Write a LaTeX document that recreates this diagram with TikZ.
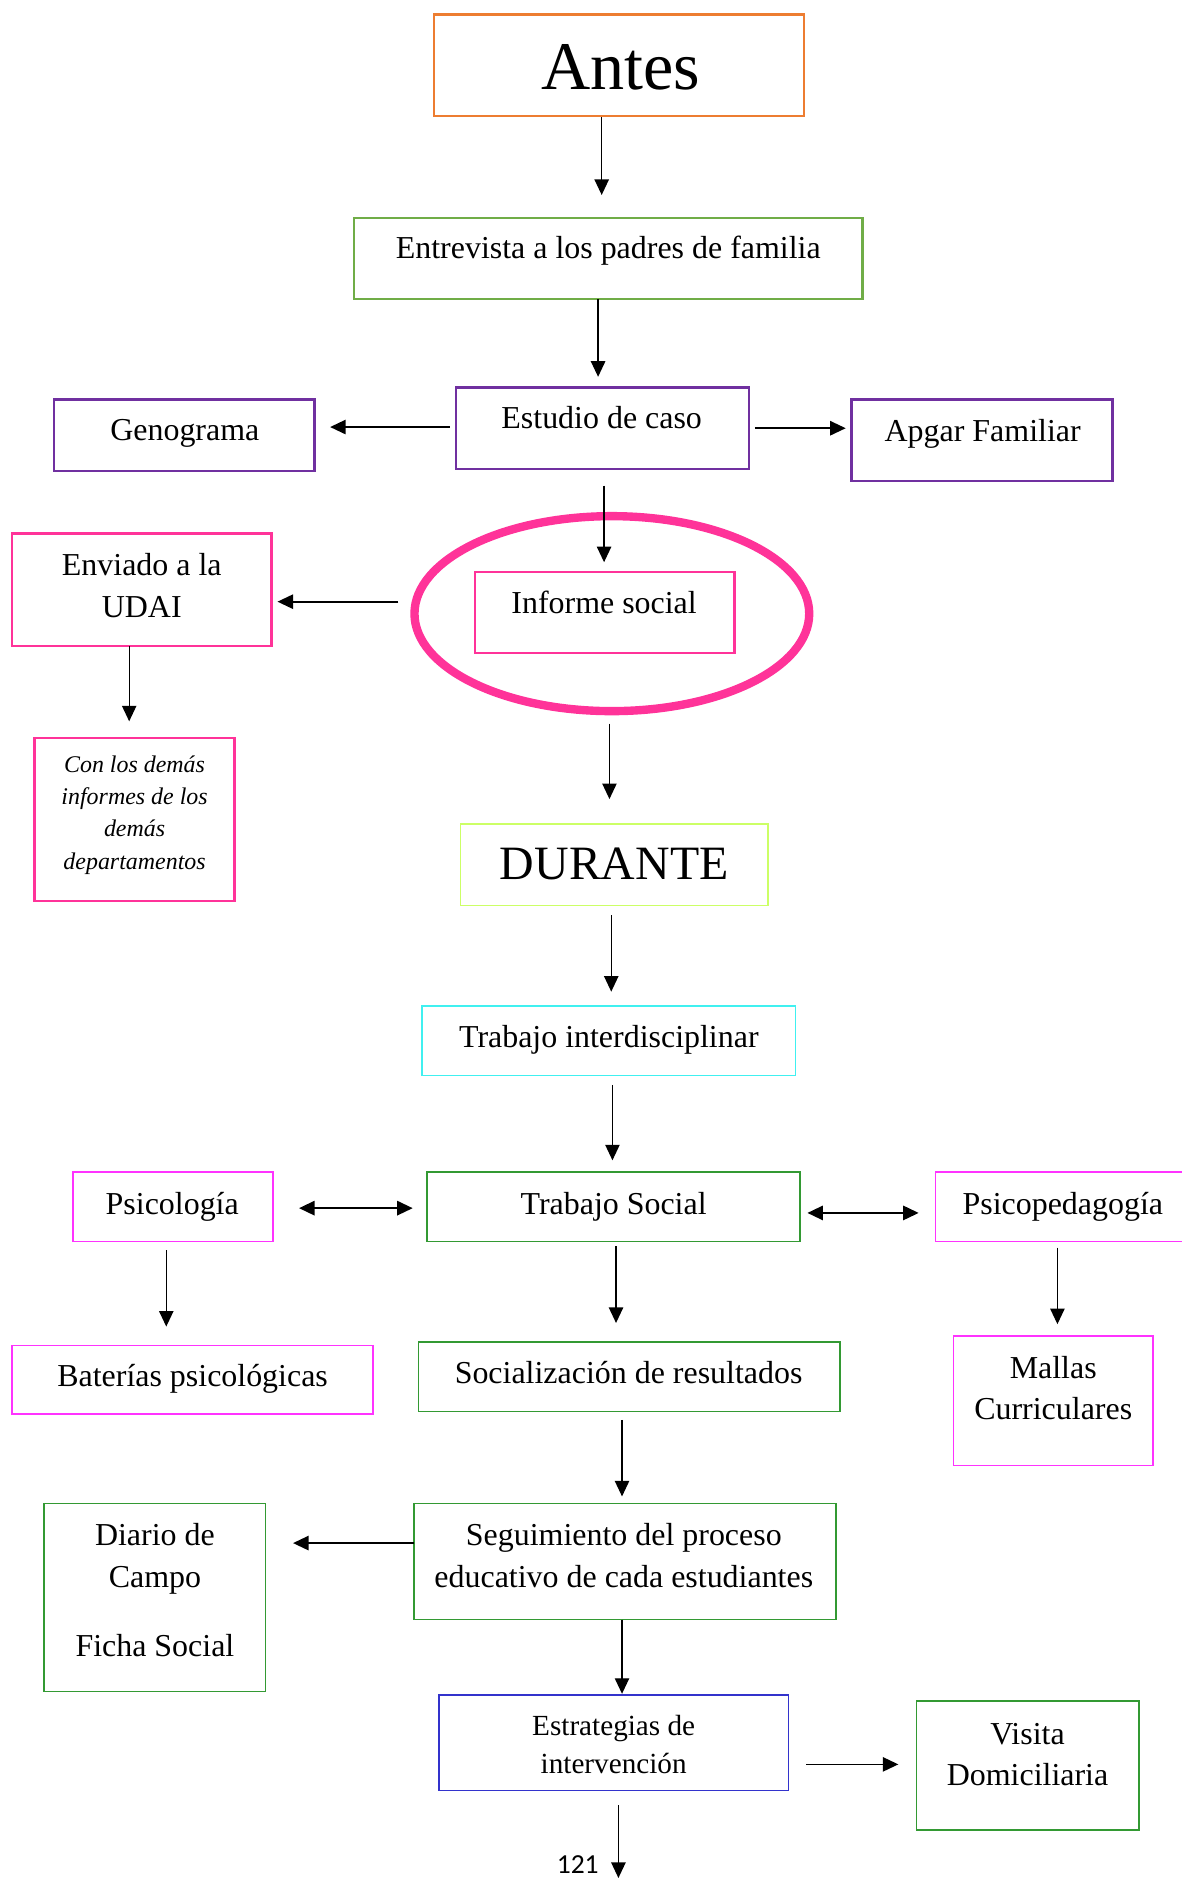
\documentclass[tikz,border=0pt]{standalone}
\usepackage{fontspec}
\setmainfont{Liberation Serif}
\newfontfamily\pagefont{Carlito}
\usetikzlibrary{shapes.geometric,arrows.meta}
\definecolor{corange}{HTML}{ED7D31}
\definecolor{cgreenA}{HTML}{70AD47}
\definecolor{cpurple}{HTML}{7030A0}
\definecolor{cpink}{HTML}{FF3399}
\definecolor{cyellow}{HTML}{CCFF66}
\definecolor{ccyan}{HTML}{40F0F0}
\definecolor{cgreenB}{HTML}{339933}
\definecolor{cmagenta}{HTML}{FF33FF}
\definecolor{cblue}{HTML}{3333CC}
\newcommand{\TL}[1]{\begin{tabular}[t]{@{}c@{}}#1\end{tabular}}
\begin{document}
\begin{tikzpicture}[x=1pt,y=1pt,
  box/.style={draw, anchor=north west, inner sep=0pt, outer sep=0pt},
  thickbox/.style={box, line width=2pt},
  thinbox/.style={box, line width=1.3pt},
  txt/.style={anchor=base, inner sep=0pt, font=\fontsize{26.7}{35}\selectfont},
  arr/.style={-{Triangle[length=13pt,width=12pt]}, line width=1.1pt},
  harr/.style={-{Triangle[length=13pt,width=12pt]}, line width=1.4pt},
  dharr/.style={{Triangle[length=13pt,width=12pt]}-{Triangle[length=13pt,width=12pt]}, line width=1.6pt}]
\useasboundingbox (0,0) rectangle (988,-1570);
\clip (0,0) rectangle (988,-1570);

% ANTES section
\node[thickbox, draw=corange, minimum width=309pt, minimum height=85pt] (antes) at (363,-12) {};
\node[txt, font=\fontsize{57}{60}\selectfont] (tantes) at (519,-75) {Antes};

\node[thickbox, draw=cgreenA, minimum width=425pt, minimum height=68pt] (ent) at (296,-182) {};
\node[txt] (tent) at (508.5,-216) {Entrevista a los padres de familia};

\node[thickbox, draw=cpurple, minimum width=245pt, minimum height=68pt] (est) at (381,-324) {};
\node[txt] (test) at (503,-358) {Estudio de caso};

\node[thickbox, draw=cpurple, minimum width=218pt, minimum height=60pt] (gen) at (45,-334) {};
\node[txt] (tgen) at (154.5,-368.5) {Genograma};

\node[thickbox, draw=cpurple, minimum width=218pt, minimum height=68pt] (apg) at (712,-334) {};
\node[txt] (tapg) at (821.5,-369) {Apgar Familiar};

\node[ellipse, draw=cpink, line width=7pt, inner sep=0pt, outer sep=0pt,
      minimum width=330pt, minimum height=163pt] (ell) at (511.5,-513) {};
\node[thickbox, draw=cpink, minimum width=217pt, minimum height=68pt] (inf) at (397,-478) {};
\node[txt] (tinf) at (505,-513) {Informe social};

\node[thickbox, draw=cpink, minimum width=217pt, minimum height=94pt] (env) at (10,-446) {};
\node[txt] (tenv) at (118.5,-481.5) {\TL{Enviado a la\\UDAI}};

\node[thickbox, draw=cpink, minimum width=167pt, minimum height=136pt] (con) at (29,-617) {};
\node[txt, font=\fontsize{20}{27}\selectfont\itshape] (tcon) at (112.5,-645.5)
  {\TL{Con los demás\\informes de los\\demás\\departamentos}};

% DURANTE section
\node[thinbox, draw=cyellow, minimum width=257pt, minimum height=68pt] (dur) at (385,-689) {};
\node[txt, font=\fontsize{40}{44}\selectfont] (tdur) at (513.5,-735) {DURANTE};

\node[thinbox, draw=ccyan, minimum width=312pt, minimum height=58pt] (tint) at (353,-841) {};
\node[txt] (ttint) at (509,-876) {Trabajo interdisciplinar};

\node[thinbox, draw=cgreenB, minimum width=312pt, minimum height=58pt] (ts) at (357,-980) {};
\node[txt] (tts) at (513,-1015) {Trabajo Social};

\node[thinbox, draw=cmagenta, minimum width=167pt, minimum height=58pt] (psi) at (61,-980) {};
\node[txt] (tpsi) at (144,-1015) {Psicología};

\node[thinbox, draw=cmagenta, minimum width=230pt, minimum height=58pt] (psp) at (782,-980) {};
\node[txt] (tpsp) at (888.5,-1015) {Psicopedagogía};

\node[thinbox, draw=cmagenta, minimum width=302pt, minimum height=57pt] (bat) at (10,-1125) {};
\node[txt] (tbat) at (161,-1159.5) {Baterías psicológicas};

\node[thinbox, draw=cgreenB, minimum width=352pt, minimum height=58pt] (soc) at (350,-1122) {};
\node[txt] (tsoc) at (525.5,-1156.5) {Socialización de resultados};

\node[thinbox, draw=cmagenta, minimum width=167pt, minimum height=108pt] (mal) at (797,-1117) {};
\node[txt] (tmal) at (880.5,-1152) {\TL{Mallas\\Curriculares}};

\node[thinbox, draw=cgreenB, minimum width=353pt, minimum height=97pt] (seg) at (346,-1257) {};
\node[txt] (tseg) at (521.5,-1292) {\TL{Seguimiento del proceso\\educativo de cada estudiantes}};

\node[thinbox, draw=cgreenB, minimum width=185pt, minimum height=157pt] (dia) at (37,-1257) {};
\node[txt] (tdia) at (129.5,-1292) {\TL{Diario de\\Campo\\[23pt]Ficha Social}};

\node[thinbox, draw=cblue, minimum width=292pt, minimum height=80pt] (estr) at (367,-1417) {};
\node[txt, font=\fontsize{24.4}{32}\selectfont] (testr) at (513,-1451) {\TL{Estrategias de\\intervención}};

\node[thinbox, draw=cgreenB, minimum width=186pt, minimum height=108pt] (vis) at (766,-1422) {};
\node[txt] (tvis) at (859,-1458) {\TL{Visita\\Domiciliaria}};

\node[anchor=base, inner sep=0pt, font=\pagefont\fontsize{23}{25}\selectfont] (pnum) at (483,-1566) {121};
\coordinate (pgend) at (517,-1570);

% connectors
\draw[arr, shorten <=1pt, shorten >=19pt] ([xshift=-14.5pt]antes.south) -- ([xshift=-14.5pt]antes.south |- ent.north);
\draw[arr, shorten >=9pt] ([xshift=-8.5pt]ent.south) -- ([xshift=-8.5pt]ent.south |- est.north);
\draw[harr, shorten <=5pt, shorten >=13pt] ([yshift=1pt]est.west) -- ([yshift=1pt]est.west -| gen.east);
\draw[harr, shorten <=5pt, shorten >=5pt] (est.east) -- (est.east -| apg.west);
\draw[arr, shorten <=14pt, shorten >=8pt] ([xshift=1.5pt]est.south) -- ([xshift=1.5pt]est.south |- inf.north);
\draw[harr, shorten <=13.5pt, shorten >=5pt] ([yshift=10pt]ell.west) -- ([yshift=10pt]ell.west -| env.east);
\draw[arr, shorten >=14pt] ([xshift=-10.5pt]env.south) -- ([xshift=-10.5pt]env.south |- con.north);
\draw[arr, shorten <=10.5pt, shorten >=21pt] ([xshift=-2pt]ell.south) -- ([xshift=-2pt]ell.south |- dur.north);
\draw[arr, shorten <=8pt, shorten >=12pt] ([xshift=-2.5pt]dur.south) -- ([xshift=-2.5pt]dur.south |- tint.north);
\draw[arr, shorten <=8pt, shorten >=10pt] ([xshift=3pt]tint.south) -- ([xshift=3pt]tint.south |- ts.north);
\draw[dharr, shorten <=22pt, shorten >=12pt] ([yshift=-1pt]psi.east) -- ([yshift=-1pt]psi.east -| ts.west);
\draw[dharr, shorten <=6pt, shorten >=14pt] ([yshift=-5pt]ts.east) -- ([yshift=-5pt]ts.east -| psp.west);
\draw[arr, shorten <=7pt, shorten >=16pt] ([xshift=-5.5pt]psi.south) -- ([xshift=-5.5pt]psi.south |- bat.north);
\draw[arr, shorten <=4pt, shorten >=16pt] ([xshift=2pt]ts.south) -- ([xshift=2pt]ts.south |- soc.north);
\draw[arr, shorten <=5pt, shorten >=10pt] ([xshift=-13pt]psp.south) -- ([xshift=-13pt]psp.south |- mal.north);
\draw[arr, shorten <=7pt, shorten >=6pt] ([xshift=-6pt]soc.south) -- ([xshift=-6pt]soc.south |- seg.north);
\draw[harr, shorten >=23pt] ([yshift=15.5pt]seg.west) -- ([yshift=15.5pt]seg.west -| dia.east);
\draw[arr, shorten >=1pt] ([xshift=-2.5pt]seg.south) -- ([xshift=-2.5pt]seg.south |- estr.north);
\draw[harr, shorten <=15pt, shorten >=15pt] ([yshift=-18pt]estr.east) -- ([yshift=-18pt]estr.east -| vis.west);
\draw[arr, shorten <=12pt] ([xshift=4pt]estr.south) -- (pgend);
\end{tikzpicture}
\end{document}
